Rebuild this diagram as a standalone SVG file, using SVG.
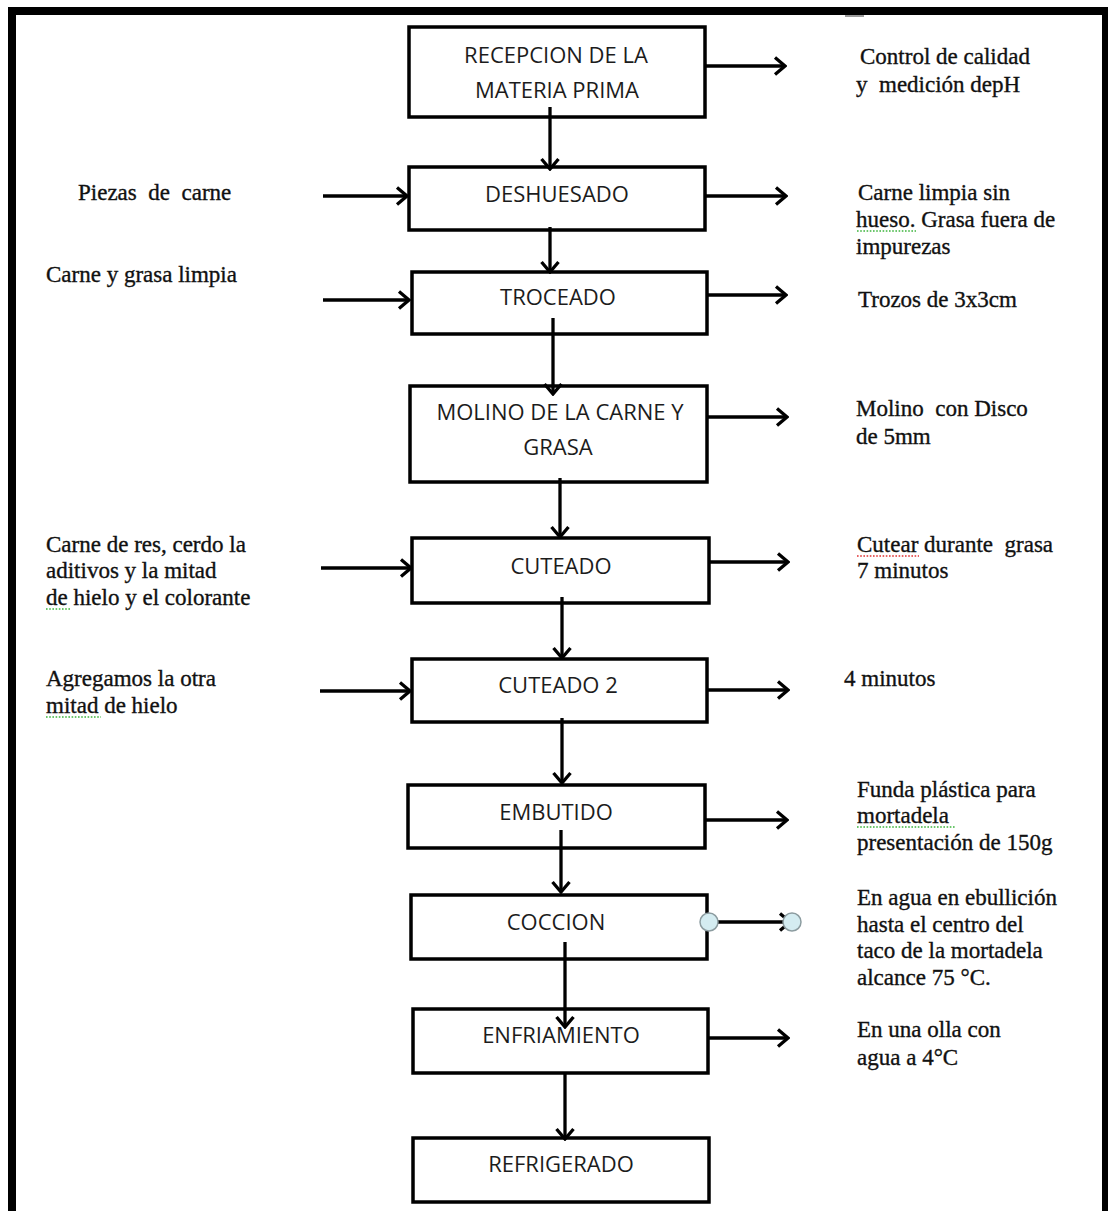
<svg xmlns="http://www.w3.org/2000/svg" width="1108" height="1211" viewBox="0 0 1108 1211">
<style>
.box{fill:#fff;stroke:#000;stroke-width:3.5}
.bt{font-family:"Open Sans","Liberation Sans",sans-serif;font-size:22px;fill:#1c1c1c;text-anchor:middle}
.note{font-family:"Liberation Serif","Times New Roman",serif;font-size:23px;fill:#111;stroke:#111;stroke-width:0.35;white-space:pre}
.conn line{stroke:#000;stroke-width:3.3;fill:none}
.arr{marker-end:url(#ah)}
.sg{stroke:#3cb43c;stroke-width:1.6;stroke-dasharray:1.6 1.6;fill:none}
.sr{stroke:#e03030;stroke-width:1.6;stroke-dasharray:1.6 1.6;fill:none}
.dot{fill:#d4ecf1;stroke:#8c9ca0;stroke-width:1.5}
</style>
<defs>
<marker id="ah" viewBox="0 0 14 20" refX="12" refY="10" markerWidth="14" markerHeight="20" markerUnits="userSpaceOnUse" orient="auto">
<path d="M2,1.5 L12,10 L2,18.5" fill="none" stroke="#000" stroke-width="3.3"/>
</marker>
</defs>
<rect width="1108" height="1211" fill="#fff"/>
<rect x="12" y="11" width="1094" height="1260" fill="none" stroke="#000" stroke-width="8"/>
<line x1="845" y1="16" x2="864" y2="16" stroke="#9a9a9a" stroke-width="2"/>

<g id="n1"><rect class="box" x="409" y="27" width="296" height="90"/><text class="bt" x="556" y="63">RECEPCION DE LA</text><text class="bt" x="557" y="98">MATERIA PRIMA</text></g>
<g id="n2"><rect class="box" x="409" y="167" width="296" height="63"/><text class="bt" x="557" y="202">DESHUESADO</text></g>
<g id="n3"><rect class="box" x="412" y="272" width="295" height="62"/><text class="bt" x="558" y="305">TROCEADO</text></g>
<g id="n4"><rect class="box" x="410" y="386" width="297" height="96"/><text class="bt" x="560" y="420">MOLINO DE LA CARNE Y</text><text class="bt" x="558" y="455">GRASA</text></g>
<g id="n5"><rect class="box" x="412" y="538" width="297" height="65"/><text class="bt" x="561" y="574">CUTEADO</text></g>
<g id="n6"><rect class="box" x="412" y="659" width="295" height="63"/><text class="bt" x="558" y="693">CUTEADO 2</text></g>
<g id="n7"><rect class="box" x="408" y="785" width="297" height="63"/><text class="bt" x="556" y="820">EMBUTIDO</text></g>
<g id="n8"><rect class="box" x="411" y="895" width="296" height="64"/><text class="bt" x="556" y="930">COCCION</text></g>
<g id="n9"><rect class="box" x="413" y="1009" width="295" height="64"/><text class="bt" x="561" y="1043">ENFRIAMIENTO</text></g>
<g id="n10"><rect class="box" x="413" y="1138" width="296" height="64"/><text class="bt" x="561" y="1172">REFRIGERADO</text></g>

<g id="connectors" class="conn">
<line class="arr" x1="550" y1="107" x2="550" y2="169"/>
<line class="arr" x1="550" y1="227" x2="550" y2="272"/>
<line class="arr" x1="553" y1="318" x2="553" y2="394"/>
<line class="arr" x1="560" y1="478" x2="560" y2="537"/>
<line class="arr" x1="562" y1="597" x2="562" y2="658"/>
<line class="arr" x1="562" y1="718" x2="562" y2="783"/>
<line class="arr" x1="561" y1="830" x2="561" y2="892"/>
<line class="arr" x1="565" y1="942" x2="565" y2="1027"/>
<line class="arr" x1="565" y1="1073" x2="565" y2="1139"/>

<line class="arr" x1="323" y1="196" x2="407" y2="196"/>
<line class="arr" x1="323" y1="300" x2="409" y2="300"/>
<line class="arr" x1="321" y1="568" x2="411" y2="568"/>
<line class="arr" x1="320" y1="691" x2="410" y2="691"/>

<line class="arr" x1="705" y1="66" x2="785" y2="66"/>
<line class="arr" x1="705" y1="196" x2="786" y2="196"/>
<line class="arr" x1="707" y1="295" x2="786" y2="295"/>
<line class="arr" x1="707" y1="417" x2="787" y2="417"/>
<line class="arr" x1="709" y1="562" x2="788" y2="562"/>
<line class="arr" x1="707" y1="690" x2="788" y2="690"/>
<line class="arr" x1="705" y1="820" x2="787" y2="820"/>
<line class="arr" x1="709" y1="922" x2="790" y2="922"/>
<line class="arr" x1="708" y1="1038" x2="788" y2="1038"/>
<circle class="dot" cx="709" cy="922" r="9"/>
<circle class="dot" cx="792" cy="922" r="9"/>
</g>

<g id="inputs">
<text class="note" x="78" y="200" xml:space="preserve">Piezas  de  carne</text>
<text class="note" x="46" y="282">Carne y grasa limpia</text>
<text class="note" x="46" y="552">Carne de res, cerdo la</text>
<text class="note" x="46" y="578">aditivos y la mitad</text>
<text class="note" x="46" y="605">de hielo y el colorante</text>
<line class="sg" x1="46" y1="609" x2="70" y2="609"/>
<text class="note" x="46" y="686">Agregamos la otra</text>
<text class="note" x="46" y="713">mitad de hielo</text>
<line class="sg" x1="46" y1="717" x2="101" y2="717"/>
</g>

<g id="outputs">
<text class="note" x="860" y="64">Control de calidad</text>
<text class="note" x="856" y="92" xml:space="preserve">y  medición depH</text>
<text class="note" x="858" y="200">Carne limpia sin</text>
<text class="note" x="856" y="227">hueso. Grasa fuera de</text>
<line class="sg" x1="857" y1="231" x2="916" y2="231"/>
<text class="note" x="856" y="254">impurezas</text>
<text class="note" x="858" y="307">Trozos de 3x3cm</text>
<text class="note" x="856" y="416" xml:space="preserve">Molino  con Disco</text>
<text class="note" x="856" y="444">de 5mm</text>
<text class="note" x="857" y="552" xml:space="preserve">Cutear durante  grasa</text>
<line class="sr" x1="857" y1="556" x2="919" y2="556"/>
<text class="note" x="857" y="578">7 minutos</text>
<text class="note" x="844" y="686">4 minutos</text>
<text class="note" x="857" y="797">Funda plástica para</text>
<text class="note" x="857" y="823">mortadela</text>
<line class="sg" x1="857" y1="827" x2="955" y2="827"/>
<text class="note" x="857" y="850">presentación de 150g</text>
<text class="note" x="857" y="905">En agua en ebullición</text>
<text class="note" x="857" y="932">hasta el centro del</text>
<text class="note" x="857" y="958">taco de la mortadela</text>
<text class="note" x="857" y="985">alcance 75 °C.</text>
<text class="note" x="857" y="1037">En una olla con</text>
<text class="note" x="857" y="1065">agua a 4°C</text>
</g>
</svg>
